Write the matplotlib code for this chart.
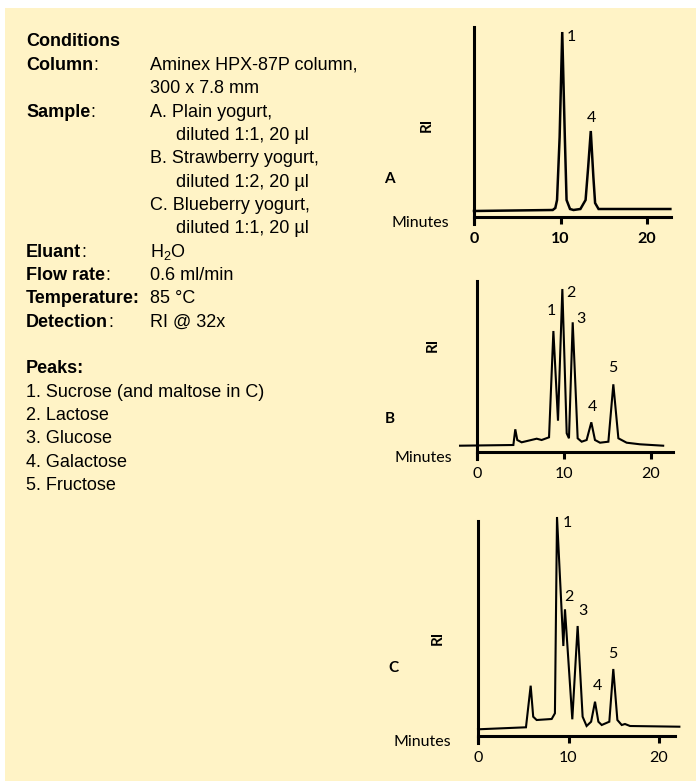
import matplotlib
matplotlib.use("Agg")
import matplotlib.pyplot as plt
from matplotlib.patches import Rectangle

plt.rcParams['mathtext.fontset'] = 'custom'
plt.rcParams['mathtext.rm'] = 'Liberation Sans'

W, H = 696, 782
BG = '#fff3c6'

# ---- conditions text ----
cond_values = ["Aminex HPX-87P column,", "300 x 7.8 mm", "A. Plain yogurt,", "diluted 1:1, 20 µl",
               "B. Strawberry yogurt,", "diluted 1:2, 20 µl", "C. Blueberry yogurt,",
               "diluted 1:1, 20 µl", r"H$_\mathregular{2}$O", "0.6 ml/min", "85 °C", "RI @ 32x"]
# label -> row of the value it belongs to
label_rows = {"Column": 0, "Sample": 2, "Eluant": 8, "Flow rate": 9, "Temperature": 10, "Detection": 11}
indented = [False, False, False, True, False, True, False, True, False, False, False, False]
peak_names = ["1. Sucrose (and maltose in C)", "2. Lactose", "3. Glucose", "4. Galactose", "5. Fructose"]

# ---- chromatogram A: plain yogurt (time min, RI response) ----
tA = [0.0, 9.1, 9.4, 9.6, 9.9, 10.2, 10.5, 10.7, 11.1, 11.5, 12.3, 12.9, 13.2, 13.5, 13.8, 14.0, 14.4, 22.7]
yA = [6, 7, 9, 17, 80, 185, 80, 17, 8, 7, 8, 17, 50, 86, 40, 14, 8, 8]
labA = ["1", "4"]
labA_t = [11.2, 13.6]
labA_y = [180, 99]

# ---- chromatogram B: strawberry yogurt ----
tB = [-1.95, 4.18, 4.4, 4.63, 5.13, 6.86, 7.43, 8.28, 8.78, 9.31, 9.81, 10.31, 10.57, 11.0,
      11.57, 12.03, 12.6, 13.14, 13.56, 14.14, 15.1, 15.67, 16.25, 17.2, 18.74, 21.4]
yB = [6.3, 7, 22.7, 12, 9.7, 13.3, 12, 14.7, 121, 31.3, 163, 18.7, 13.7, 129.7,
      13.7, 10.3, 12, 29.7, 12, 9.3, 10.3, 67.7, 13.7, 9.3, 7.7, 6.3]
labB = ["1", "2", "3", "4", "5"]
labB_t = [8.5, 10.8, 11.95, 13.3, 15.6]
labB_y = [141, 159, 133, 45, 84]

# ---- chromatogram C: blueberry yogurt ----
tC = [0.0, 5.3, 5.82, 6.1, 6.48, 8.14, 8.5, 8.73, 9.43, 9.61, 10.42, 11.01, 11.56, 12.0,
      12.5, 12.93, 13.3, 13.67, 14.51, 14.95, 15.4, 15.88, 16.24, 16.8, 22.25]
yC = [6.7, 8.7, 50.3, 19.3, 16, 17, 22.7, 219, 90, 126.7, 16.7, 110, 19.3, 10,
      14.3, 34.3, 14.3, 11, 14.3, 67, 16, 11, 12, 10, 9.3]
labC = ["1", "2", "3", "4", "5"]
labC_t = [9.83, 10.06, 11.6, 13.15, 14.92]
labC_y = [213, 139, 125, 50, 82]

ticks = [0, 10, 20]

fig = plt.figure(figsize=(W / 100, H / 100), dpi=100, facecolor='white')
fig.patches.append(Rectangle((5 / W, 1 / H), 1 - 5 / W, (H - 9) / H, transform=fig.transFigure,
                             facecolor=BG, edgecolor='none', zorder=-10))


def fx(x):
    return x / W


def fy(y):
    return 1 - y / H


# left text block
TF = 'Liberation Sans'
FS = 13
row0, dy = 42, 23.35
rend = fig.canvas.get_renderer()


def bold_label(x, y, word, colon_bold=False):
    t = fig.text(fx(x), fy(y), word + (":" if colon_bold else ""), fontsize=FS, family=TF,
                 weight='bold', va='center')
    if not colon_bold:
        bb = t.get_window_extent(rend)
        fig.text(bb.x1 / W, fy(y), ":", fontsize=FS, family=TF, va='center')


fig.text(fx(26), fy(row0), "Conditions", fontsize=FS, family=TF, weight='bold', va='center')
for name, r in label_rows.items():
    bold_label(26, row0 + dy * (r + 1), name, colon_bold=(name == "Temperature"))
for i, v in enumerate(cond_values):
    fig.text(fx(176 if indented[i] else 150), fy(row0 + dy * (i + 1)), v, fontsize=FS,
             family=TF, va='center')
bold_label(26, row0 + dy * 14, "Peaks", colon_bold=True)
for i, p in enumerate(peak_names):
    fig.text(fx(26), fy(row0 + dy * (15 + i)), p, fontsize=FS, family=TF, va='center')

# chromatogram panels
PF = 'Lato'
panels = [
    (tA, yA, labA, labA_t, labA_y, 474, 8.65, 217, 27, 0.0, 22.8, 22.8, "A", (389, 179), (427, 125), (420, 223), True),
    (tB, yB, labB, labB_t, labB_y, 477, 8.7, 452, 281, -2.0, 22.5, 22.5, "B", (390, 419), (433, 345), (423, 458), False),
    (tC, yC, labC, labC_t, labC_y, 478, 9.05, 736, 521, 0.0, 22.3, 21.8, "C", (393, 668), (438, 638), (422, 742), False),
]
ext = 7
for (t, y, lab, lab_t, lab_y, x0, ppm, ay, top, tmin, tmax, tend, letter,
     letter_xy, ri_xy, min_xy, bold) in panels:
    left = x0 + tmin * ppm
    right = x0 + tmax * ppm
    ax = fig.add_axes([fx(left), fy(ay + ext), fx(right - left), (ay + ext - top) / H])
    ax.set_xlim(tmin, tmax)
    ax.set_ylim(-ext, ay - top)
    ax.patch.set_visible(False)
    lw_tr = 1.8 if bold else 1.5
    ax.plot(t, y, color='black', lw=lw_tr, clip_on=False, solid_joinstyle='miter')
    for s in ['top', 'right']:
        ax.spines[s].set_visible(False)
    ax.spines['left'].set_position(('data', 0))
    ax.spines['bottom'].set_position(('data', 0))
    ax.spines['bottom'].set_bounds(0, tend)
    for s in ['left', 'bottom']:
        ax.spines[s].set_linewidth(2.2)
    ax.set_yticks([])
    ax.set_xticks(ticks)
    ax.tick_params(axis='x', direction='out', length=5, width=2.2, pad=6)
    for tl in ax.get_xticklabels():
        tl.set_fontfamily(PF)
        tl.set_fontsize(11.5)
        tl.set_fontweight('bold' if bold else 'normal')
    for s, tt, yy in zip(lab, lab_t, lab_y):
        ax.text(tt, yy, s, fontsize=11.5, family=PF, ha='center', va='center')
    fig.text(fx(letter_xy[0]), fy(letter_xy[1]), letter, fontsize=11, family=PF, weight='bold',
             ha='center', va='center')
    fig.text(fx(ri_xy[0]), fy(ri_xy[1]), "RI", fontsize=11, family=PF, weight='bold',
             rotation=90, ha='center', va='center')
    fig.text(fx(min_xy[0]), fy(min_xy[1]), "Minutes", fontsize=11.5, family=PF,
             ha='center', va='center')

fig.savefig("out.png", dpi=100, facecolor='white')
